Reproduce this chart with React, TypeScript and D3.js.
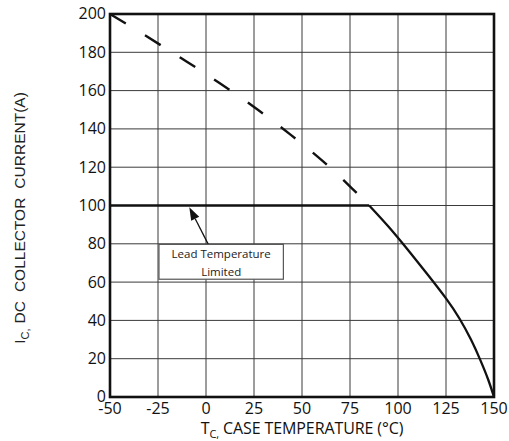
import * as d3 from 'd3'

// case temperature (°C) vs collector current (A)
const xTicks = [-50, -25, 0, 25, 50, 75, 100, 125, 150]
const yTicks = [0, 20, 40, 60, 80, 100, 120, 140, 160, 180, 200]

// silicon limit (dashed)
const dashedTemp = [-50, -32, -13, 7, 27, 44, 61, 76, 85]
const dashedCurrent = [200, 189, 177, 164, 150, 137, 123, 109, 100]

// lead temperature limit (flat) and derating curve (solid)
const flatTemp = [-50, 85]
const flatCurrent = [100, 100]
const derateTemp = [85, 95, 105, 115, 125, 132, 138, 143, 147, 150]
const derateCurrent = [100, 89, 77, 64.5, 51.5, 41, 30, 19, 9, 0]

const W = 509
const H = 441
const margin = { top: 14, right: 15, bottom: 44, left: 110 }

const App = () => {
    const x = d3.scaleLinear().domain([-50, 150]).range([margin.left, W - margin.right])
    const y = d3.scaleLinear().domain([0, 200]).range([H - margin.bottom, margin.top])

    const pts = (a: number[], b: number[]) => d3.zip(a, b) as [number, number][]

    const smooth = d3.line<[number, number]>()
        .x(d => x(d[0]))
        .y(d => y(d[1]))
        .curve(d3.curveMonotoneX)
    const natural = d3.line<[number, number]>()
        .x(d => x(d[0]))
        .y(d => y(d[1]))
        .curve(d3.curveNatural)
    const straight = d3.line<[number, number]>()
        .x(d => x(d[0]))
        .y(d => y(d[1]))

    // annotation, placed in data units
    const box = { t0: -24.5, t1: 40.3, i0: 61.5, i1: 79.7 }
    const arrowTip = [-8.7, 99.1]
    const arrowTail = [1.2, 79.7]
    const tx = x(arrowTip[0]), ty = y(arrowTip[1])
    const sx = x(arrowTail[0]), sy = y(arrowTail[1])
    const ang = Math.atan2(sy - ty, sx - tx)
    const headLen = 13, headW = 4.5
    const bx = tx + headLen * Math.cos(ang), by = ty + headLen * Math.sin(ang)
    const head = [
        [tx, ty],
        [bx + headW * Math.sin(ang), by - headW * Math.cos(ang)],
        [bx - headW * Math.sin(ang), by + headW * Math.cos(ang)],
    ].map(p => p.join(',')).join(' ')

    const boxCx = (x(box.t0) + x(box.t1)) / 2
    const font = "'Open Sans', 'Noto Sans', sans-serif"

    return (
        <svg width={W} height={H} style={{ position: 'absolute', left: 0, top: 0, background: '#fff' }}>
            <g>
                {xTicks.map(t => (
                    <line key={'gx' + t} x1={x(t)} x2={x(t)} y1={y(0)} y2={y(200)} stroke="#3a3a3a" strokeWidth={1} />
                ))}
                {yTicks.map(t => (
                    <line key={'gy' + t} x1={x(-50)} x2={x(150)} y1={y(t)} y2={y(t)} stroke="#3a3a3a" strokeWidth={1} />
                ))}
            </g>

            <path d={smooth(pts(dashedTemp, dashedCurrent)) ?? ''} fill="none" stroke="#111" strokeWidth={2.4} strokeDasharray="18.5,22.5" />
            <path d={straight(pts(flatTemp, flatCurrent)) ?? ''} fill="none" stroke="#111" strokeWidth={2.3} />
            <path d={natural(pts(derateTemp, derateCurrent)) ?? ''} fill="none" stroke="#111" strokeWidth={2.3} strokeLinejoin="round" />

            <rect x={x(-50)} y={y(200)} width={x(150) - x(-50)} height={y(0) - y(200)} fill="none" stroke="#111" strokeWidth={2.6} />

            <line x1={sx} y1={sy} x2={bx} y2={by} stroke="#111" strokeWidth={1.3} />
            <polygon points={head} fill="#111" />
            <rect x={x(box.t0)} y={y(box.i1)} width={x(box.t1) - x(box.t0)} height={y(box.i0) - y(box.i1)}
                fill="#fff" stroke="#555" strokeWidth={1.2} />
            <text x={boxCx} y={258} textAnchor="middle" fontFamily={font} fontSize={11.5} fill="#222">Lead Temperature</text>
            <text x={boxCx} y={275.5} textAnchor="middle" fontFamily={font} fontSize={11.5} fill="#222">Limited</text>

            <g fontFamily={font} fontSize={16} fill="#111">
                {yTicks.map(t => (
                    <text key={'ty' + t} x={x(-50) - 4} y={y(t)} dy="0.34em" textAnchor="end">{t}</text>
                ))}
                {xTicks.map(t => (
                    <text key={'tx' + t} x={x(t)} y={413.5} textAnchor="middle">{t}</text>
                ))}
            </g>

            <text x={(x(-50) + x(150)) / 2} y={434} textAnchor="middle" fontFamily={font} fontSize={16} fill="#111" letterSpacing={-0.1}>
                T<tspan fontSize={11} dy={4}>C,</tspan><tspan dy={-4}> CASE TEMPERATURE (°C)</tspan>
            </text>

            <text transform={`translate(25,218) rotate(-90)`} textAnchor="middle"
                fontFamily="'Liberation Sans', Arial, sans-serif" fontSize={15.5} fill="#222">
                I<tspan fontSize={11} dy={4}>C,</tspan><tspan dy={-4} dx={5}>DC</tspan><tspan dx={9}>COLLECTOR</tspan><tspan dx={9}>CURRENT(A)</tspan>
            </text>
        </svg>
    )
}

export default App
